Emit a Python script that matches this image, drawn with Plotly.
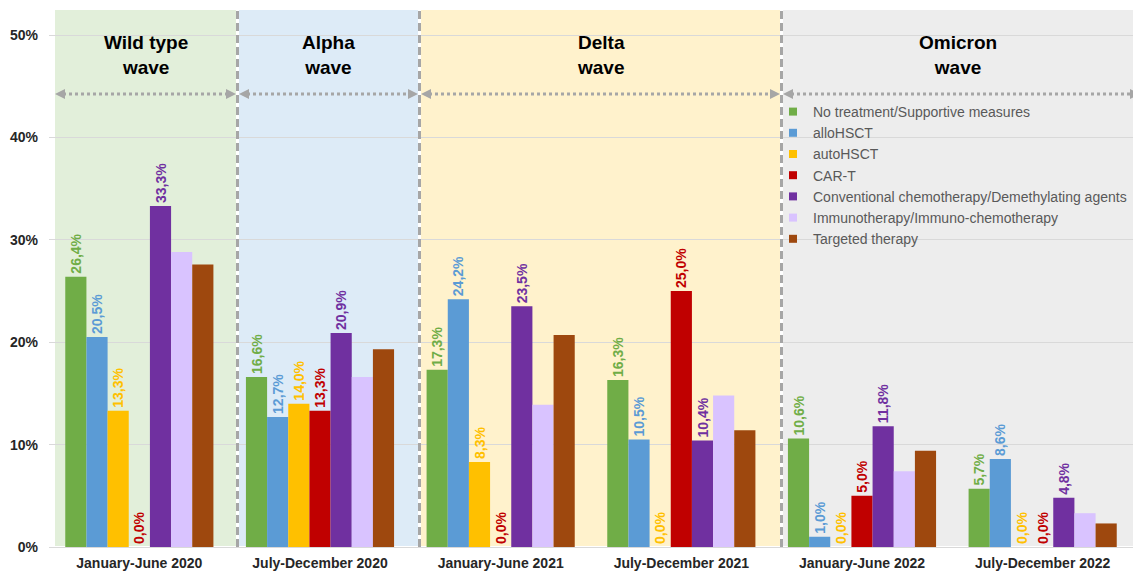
import plotly.graph_objects as go

# ---------------- data ----------------
periods = ["January-June 2020", "July-December 2020", "January-June 2021",
           "July-December 2021", "January-June 2022", "July-December 2022"]

no_treatment = [26.4, 16.6, 17.3, 16.3, 10.6, 5.7]
allo_hsct = [20.5, 12.7, 24.2, 10.5, 1.0, 8.6]
auto_hsct = [13.3, 14.0, 8.3, 0.0, 0.0, 0.0]
car_t = [0.0, 13.3, 0.0, 25.0, 5.0, 0.0]
chemo = [33.3, 20.9, 23.5, 10.4, 11.8, 4.8]
immuno = [28.8, 16.6, 13.9, 14.8, 7.4, 3.3]
targeted = [27.6, 19.3, 20.7, 11.4, 9.4, 2.3]

series_names = ["No treatment/Supportive measures", "alloHSCT", "autoHSCT", "CAR-T",
                "Conventional chemotherapy/Demethylating agents",
                "Immunotherapy/Immuno-chemotherapy", "Targeted therapy"]
series_values = [no_treatment, allo_hsct, auto_hsct, car_t, chemo, immuno, targeted]
series_labeled = [True, True, True, True, True, False, False]

wave_names = ["Wild type<br>wave", "Alpha<br>wave", "Delta<br>wave", "Omicron<br>wave"]
y_ticks = [0, 10, 20, 30, 40, 50]
y_tick_labels = ["0%", "10%", "20%", "30%", "40%", "50%"]

# ---------------- styles ----------------
colors = ["#70AD47", "#5B9BD5", "#FFC000", "#C00000", "#7030A0", "#D9C3FF", "#9E480E"]
wave_fills = ["#E2EFDA", "#DDEBF7", "#FFF2CC", "#EDEDED"]
FONT = "Arial, Liberation Sans, sans-serif"

W, H = 1133, 573
ML, MR, MT, MB = 49, 0, 10, 26
PW, PH = W - ML - MR, H - MT - MB


def px(xp):
    return (xp - ML) / PW


def py(yp):
    return (H - MB - yp) / PH


fig = go.Figure()

for name, vals, col, lab in zip(series_names, series_values, colors, series_labeled):
    texts = [f"{v:.1f}%".replace(".", ",") for v in vals] if lab else None
    fig.add_trace(go.Bar(
        x=periods, y=vals, name=name, marker=dict(color=col, line=dict(width=0)),
        text=texts, textposition="outside" if lab else "none", textangle=-90,
        textfont=dict(color=col, size=14, family=FONT, weight="bold"),
        constraintext="none", cliponaxis=False, showlegend=False,
        hovertemplate="%{x}: %{y:.1f}%<extra>" + name + "</extra>",
    ))
    # legend entry with a small square marker
    fig.add_trace(go.Scatter(
        x=[None], y=[None], mode="markers", name=name,
        marker=dict(symbol="square", size=8, color=col), showlegend=True,
    ))

# wave backgrounds (pixel boundaries)
regions = [(55, 236), (239, 418), (421, 780), (783, 1133)]
shapes = []
for (x0, x1), fill in zip(regions, wave_fills):
    shapes.append(dict(type="rect", xref="paper", yref="paper", x0=px(x0), x1=px(x1),
                       y0=py(546), y1=1, fillcolor=fill, line=dict(width=0), layer="below"))

# dashed separators
for xs in [237.5, 419.5, 781.5]:
    shapes.append(dict(type="line", xref="paper", yref="paper", x0=px(xs), x1=px(xs),
                       y0=0, y1=py(11), line=dict(color="#A6A6A6", width=3, dash="8px,4px"),
                       layer="above"))

# dotted double arrows
arrow_y = 94
arrow_spans = [(55, 236), (239, 418), (421, 780), (783, 1140)]
for a0, a1 in arrow_spans:
    shapes.append(dict(type="line", xref="paper", yref="paper", x0=px(a0 + 8), x1=px(a1 - 8),
                       y0=py(arrow_y), y1=py(arrow_y),
                       line=dict(color="#A6A6A6", width=3, dash="3px,3px"), layer="above"))
    for tip, direction in [(a0, 1), (a1, -1)]:
        base = tip + direction * 10
        path = (f"M {px(tip)} {py(arrow_y)} L {px(base)} {py(arrow_y - 5)} "
                f"L {px(base)} {py(arrow_y + 5)} Z")
        shapes.append(dict(type="path", xref="paper", yref="paper", path=path,
                           fillcolor="#A6A6A6", line=dict(width=0), layer="above"))

annotations = []
for (x0, x1), wname in zip(regions, wave_names):
    annotations.append(dict(x=px((x0 + x1) / 2), y=py(55), xref="paper", yref="paper",
                            text=f"<b>{wname}</b>", showarrow=False, xanchor="center",
                            yanchor="middle", font=dict(family=FONT, size=19, color="#000000")))

fig.update_layout(
    width=W, height=H,
    margin=dict(l=ML, r=MR, t=MT, b=MB, autoexpand=False),
    barmode="group", bargap=0.18, bargroupgap=0,
    plot_bgcolor="rgba(0,0,0,0)", paper_bgcolor="white",
    font=dict(family=FONT),
    shapes=shapes, annotations=annotations,
    legend=dict(x=px(773), y=py(96), xanchor="left", yanchor="top",
                bgcolor="rgba(0,0,0,0)", font=dict(family=FONT, size=14, color="#595959"),
                itemclick=False, itemdoubleclick=False),
    xaxis=dict(type="category", categoryorder="array", categoryarray=periods,
               showgrid=False, showline=True, linecolor="#D9D9D9", linewidth=1,
               tickfont=dict(family=FONT, size=14, color="#262626", weight="bold"),
               ticks="", range=[-0.5, 5.5], ticklabelstandoff=3),
    yaxis=dict(range=[0, PH / 10.24], tickmode="array", tickvals=y_ticks, ticktext=y_tick_labels,
               showgrid=True, gridcolor="#D9D9D9", gridwidth=1, zeroline=False,
               tickfont=dict(family=FONT, size=14, color="#262626", weight="bold"),
               ticklabelstandoff=10),
)

fig.write_html("out.html", config={"displayModeBar": False},
               post_script="document.body.style.margin='0';document.body.style.overflow='hidden';")
